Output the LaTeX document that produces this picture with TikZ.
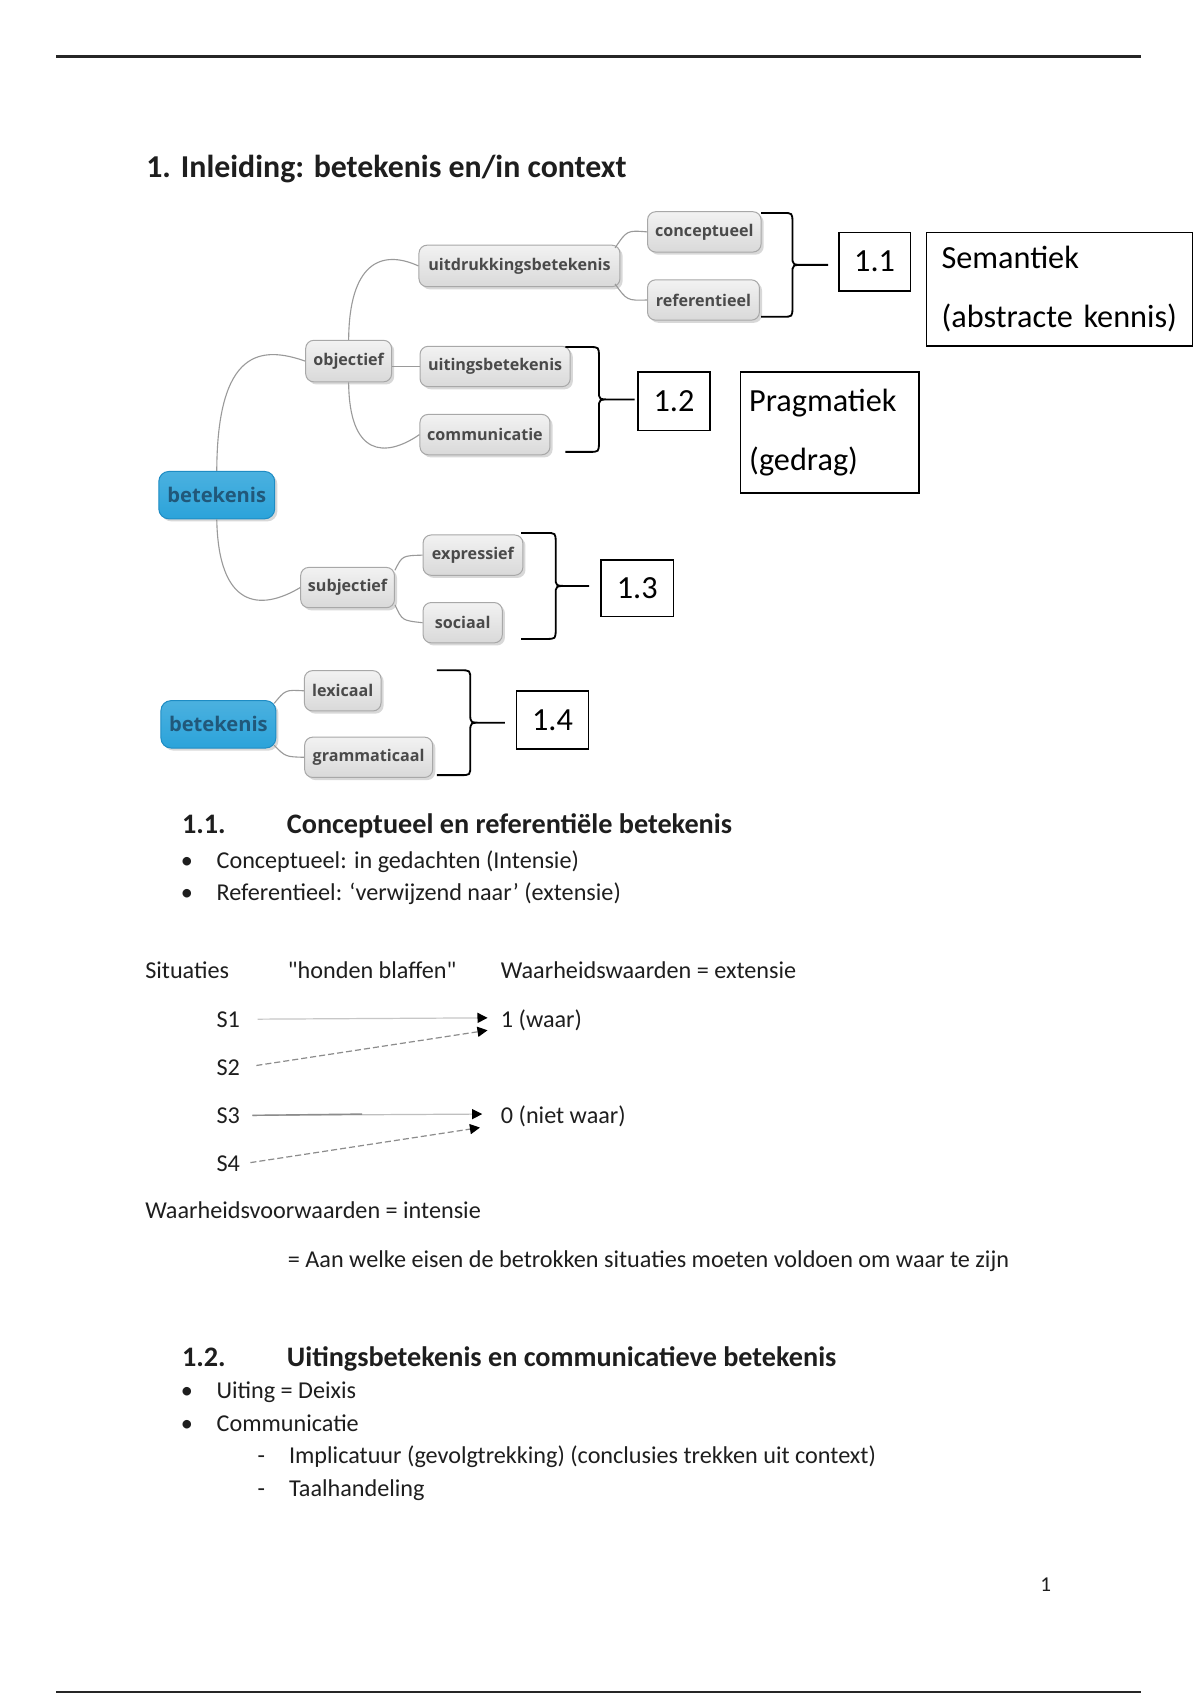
\documentclass[tikz,border=0pt]{standalone}
\usepackage{fontspec}
\setmainfont{Carlito}[Ligatures=TeXOff]
\newfontfamily\mmfont{Open Sans}
\usetikzlibrary{arrows.meta,shadows}
\definecolor{mmtop}{HTML}{F2F2F2}
\definecolor{mmbot}{HTML}{D9D9D9}
\definecolor{mmline}{HTML}{A8A8A8}
\definecolor{mmtext}{HTML}{4A4A4A}
\definecolor{mmblue}{HTML}{2BA3DA}
\definecolor{mmbluedark}{HTML}{1E8CC4}
\definecolor{mmbluetext}{HTML}{21587A}
\definecolor{conngray}{HTML}{9A9A9A}
\definecolor{doctext}{HTML}{1E1E1E}
\newcommand\cbr[5]{%
  \pgfmathsetmacro\brmid{(#4+#5)/2}%
  \draw[brc] (#1,#4) -- ({#2-9},#4) .. controls (#2,#4) .. (#2,{#4+9})
    -- (#2,{\brmid-8}) .. controls (#2,\brmid) .. ({#2+11},\brmid) -- (#3,\brmid)
    ({#2+11},\brmid) .. controls (#2,\brmid) .. (#2,{\brmid+8})
    -- (#2,{#5-9}) .. controls (#2,#5) .. ({#2-9},#5) -- (#1,#5);}
\begin{document}
\begin{tikzpicture}[x=0.5363pt, y=-0.5363pt,
  mm/.style={draw=mmline, line width=0.5pt, rounded corners=4pt, top color=mmtop, bottom color=mmbot,
    text=mmtext, font=\mmfont\bfseries\fontsize{8}{9}\selectfont, inner sep=0pt, minimum height=20pt,
    drop shadow={shadow xshift=1.3pt, shadow yshift=-1.3pt, opacity=0.3}},
  mmroot/.style={mm, draw=mmbluedark, top color=mmblue!85!white, bottom color=mmblue, text=mmbluetext,
    font=\mmfont\bfseries\fontsize{10}{12}\selectfont, minimum height=23.5pt, rounded corners=5pt},
  conn/.style={draw=conngray, line width=0.55pt},
  brc/.style={draw=black, line width=0.9pt},
  numbox/.style={draw=black, line width=0.8pt, inner sep=0pt, font=\fontsize{16}{19}\selectfont},
  txt/.style={anchor=base west, inner sep=0pt, text=doctext, font=\fontsize{12}{14}\selectfont},
  h1/.style={txt, font=\bfseries\fontsize{15.8}{19}\selectfont},
  h2/.style={txt, font=\bfseries\fontsize{14}{17}\selectfont},
  sarrow/.style={-{Triangle[length=5pt,width=5pt,color=black]}, line width=0.6pt}
]
\fill[white] (0,0) rectangle (1110,1572.5);
\useasboundingbox (0,0) rectangle (1110,1572.5);

% page rules
\draw[line width=1.3pt, black!85] (52,52) coordinate (tl) -- (1055,52) coordinate (tr);
\draw[line width=1.3pt, black!85] (52,1565) coordinate (bl) -- (1055,1565) coordinate (br);

% heading
\node[h1] (h1num) at (135,164) {1.};
\node[h1] (h1txt) at (167,164) {Inleiding: betekenis en/in context};

% ---------- mind map ----------
\node[mmroot, minimum width=57.5pt] (root) at (200.5,458) {betekenis};
\node[mm, minimum width=42.6pt, minimum height=20.6pt] (obj) at (322.5,334) {objectief};
\node[mm, minimum width=99.7pt, minimum height=20.6pt] (uitdr) at (480.5,246) {uitdrukkingsbetekenis};
\node[mm, minimum width=56.3pt] (concept) at (651.5,214.5) {conceptueel};
\node[mm, minimum width=55.5pt] (refer) at (650.7,277.5) {referentieel};
\node[mm, minimum width=74.5pt] (uiting) at (458,339) {uitingsbetekenis};
\node[mm, minimum width=64.5pt] (comm) at (448.6,402) {communicatie};
\node[mm, minimum width=46.5pt] (subj) at (321.5,543.5) {subjectief};
\node[mm, minimum width=49.5pt] (expr) at (437.5,513.5) {expressief};
\node[mm, minimum width=39.3pt] (soc) at (428,576) {sociaal};
\node[mmroot, minimum width=57pt] (root2) at (202,670) {betekenis};
\node[mm, minimum width=38pt] (lex) at (317,639) {lexicaal};
\node[mm, minimum width=63.5pt] (gram) at (341,700.5) {grammaticaal};

\draw[conn] (root.north) .. controls (201,322) and (242,320) .. (obj.west);
\draw[conn] (obj.north) .. controls (323,244) and (352,230) .. (uitdr.west);
\draw[conn] (uiting.west) -- (uiting.west -| obj.east);
\draw[conn] (obj.south) .. controls (323,422) and (356,424) .. (comm.west);
\draw[conn] (root.south) .. controls (202,562) and (240,566) .. (subj.west);
\draw[conn] (subj.20) .. controls (372,514) .. (expr.west);
\draw[conn] (subj.-20) .. controls (372,574) .. (soc.west);
\draw[conn] ([shift={(-5,3)}]uitdr.north east) .. controls (580,213) .. (concept.west);
\draw[conn] ([shift={(-5,-3)}]uitdr.south east) .. controls (580,278) .. (refer.west);
\draw[conn] ([shift={(-2,3)}]root2.north east) .. controls (264,638) .. (lex.west);
\draw[conn] ([shift={(-2,-3)}]root2.south east) .. controls (264,700) .. (gram.west);

% braces
\cbr{704}{733}{766}{197}{293}
\cbr{523}{554}{587}{321}{418}
\cbr{482}{514}{545}{493}{591}
\cbr{404}{435}{467}{620}{717}

% number boxes
\node[numbox, minimum width=35.6pt, minimum height=29pt] (b11) at (809,242) {1.1};
\node[numbox, minimum width=35.8pt, minimum height=29pt] (b12) at (623.5,371) {1.2};
\node[numbox, minimum width=35.8pt, minimum height=28pt] (b13) at (589.5,544) {1.3};
\node[numbox, minimum width=35.8pt, minimum height=29pt] (b14) at (511,666) {1.4};

\node[numbox, minimum width=132pt, minimum height=56.3pt, text width=117pt, inner xsep=7.5pt,
  align=left, font=\fontsize{16}{29}\selectfont] (sem) at (980,267.5) {Semantiek\\(abstracte kennis)};
\node[numbox, minimum width=88.5pt, minimum height=60pt, text width=80pt, inner xsep=4.3pt,
  align=left, font=\fontsize{16}{29}\selectfont] (prag) at (767.5,400) {Pragmatiek\\(gedrag)};

% ---------- section 1.1 ----------
\node[h2] (s11n) at (168,771) {1.1.};
\node[h2] (s11t) at (265,771) {Conceptueel en referentiële betekenis};
\node[txt] (bu1) at (167,803) {•};
\node[txt] (l1) at (200,803) {Conceptueel: in gedachten (Intensie)};
\node[txt] (bu2) at (167,833) {•};
\node[txt] (l2) at (200,833) {Referentieel: ‘verwijzend naar’ (extensie)};

\node[txt] (sit) at (134,905) {Situaties};
\node[txt] (hb) at (266,905) {"honden blaffen"};
\node[txt] (ww) at (463,905) {Waarheidswaarden = extensie};

\node[txt] (s1) at (200,950) {S1};
\node[txt] (s2) at (200,995) {S2};
\node[txt] (s3) at (200,1039) {S3};
\node[txt] (s4) at (200,1084) {S4};
\node[txt] (waar) at (463,950) {1 (waar)};
\node[txt] (nwaar) at (463,1039) {0 (niet waar)};

\coordinate (t1) at (451,941.5);
\coordinate (t2) at (451,953);
\coordinate (t3) at (446,1030.5);
\coordinate (t4) at (444,1043);
\draw[sarrow, draw=black!22, shorten <=8.5pt] (s1.east) -- (t1);
\draw[sarrow, draw=black!45, dashed, dash pattern=on 3pt off 1.5pt, shorten <=8pt] (s2.east) -- (t2);
\draw[sarrow, draw=black!25, shorten <=6pt] (s3.east) -- (t3);
\draw[draw=black!45, line width=0.7pt, shorten <=6pt] (s3.east) -- (335,1030.5);
\draw[sarrow, draw=black!45, dashed, dash pattern=on 3pt off 1.5pt, shorten <=5pt] (s4.east) -- (t4);

\node[txt] (wv) at (134,1127) {Waarheidsvoorwaarden = intensie};
\node[txt] (eisen) at (266,1172) {= Aan welke eisen de betrokken situaties moeten voldoen om waar te zijn};

% ---------- section 1.2 ----------
\node[h2] (s12n) at (168,1264) {1.2.};
\node[h2] (s12t) at (265,1264) {Uitingsbetekenis en communicatieve betekenis};
\node[txt] (bu3) at (167,1294) {•};
\node[txt] (l3) at (200,1294) {Uiting = Deixis};
\node[txt] (bu4) at (167,1324) {•};
\node[txt] (l4) at (200,1324) {Communicatie};
\node[txt] (d1) at (238,1354) {-};
\node[txt] (l5) at (267,1354) {Implicatuur (gevolgtrekking) (conclusies trekken uit context)};
\node[txt] (d2) at (238,1384) {-};
\node[txt] (l6) at (267,1384) {Taalhandeling};

\node[txt, font=\fontsize{10.5}{12}\selectfont] (pnum) at (962,1472) {1};
\end{tikzpicture}
\end{document}
